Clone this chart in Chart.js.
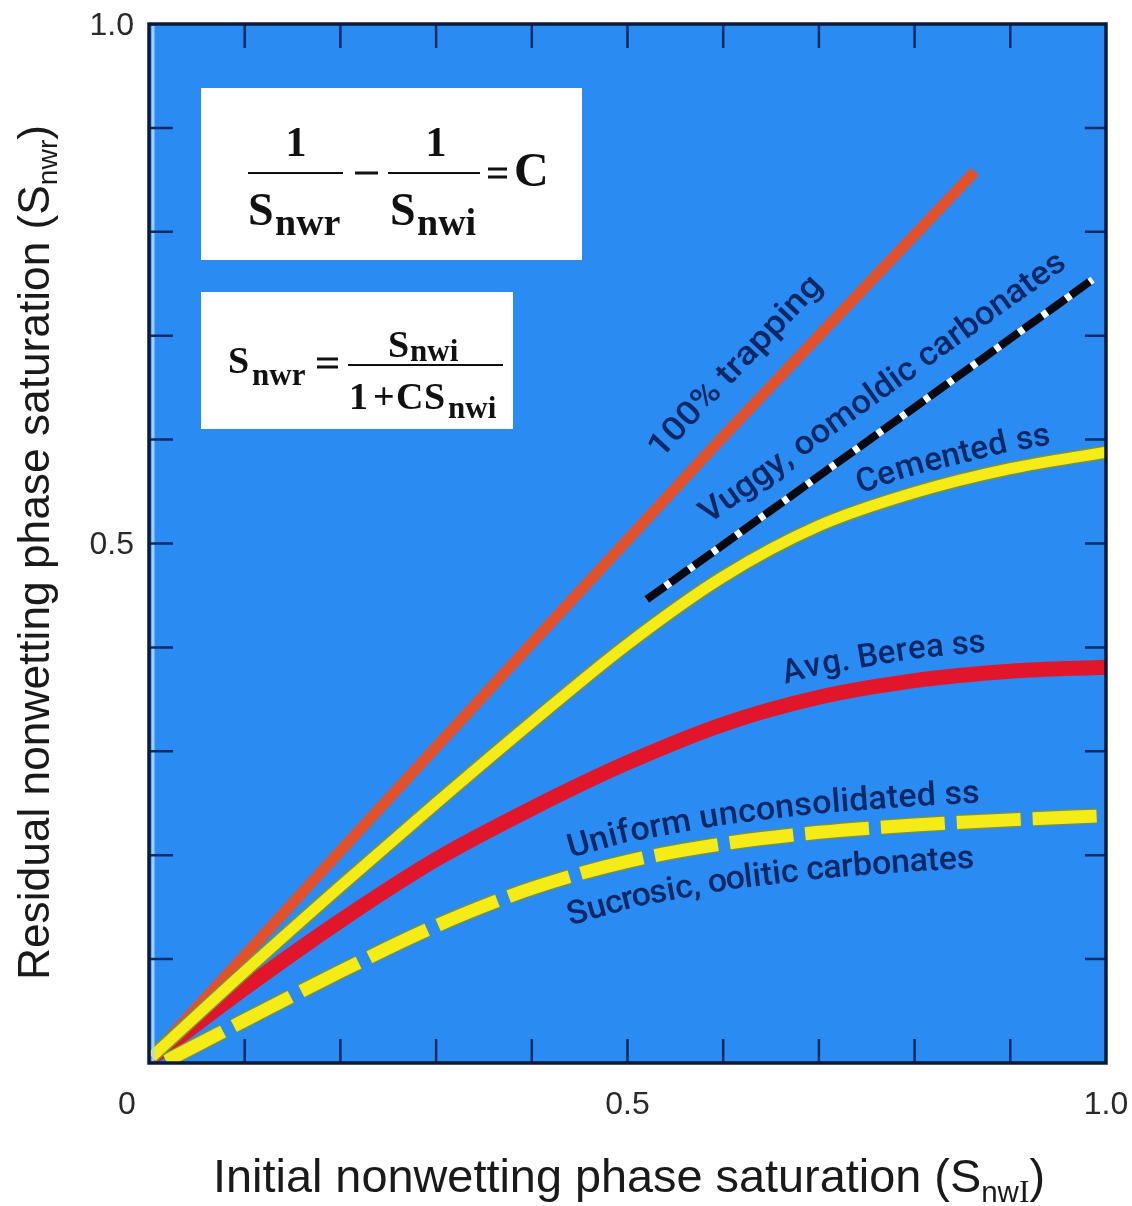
<!DOCTYPE html>
<html>
<head>
<meta charset="utf-8">
<script src="https://cdn.jsdelivr.net/npm/chart.js@4.4.1/dist/chart.umd.min.js"></script>
<style>
html,body{margin:0;padding:0;background:#ffffff;}
canvas{display:block;}
</style>
</head>
<body>
<canvas id="c" width="1132" height="1206"></canvas>
<script>
// ---------------- data ----------------
const trappingX = [0.003, 0.2, 0.4, 0.6, 0.863];
const trappingY = [0.006, 0.204, 0.404, 0.603, 0.858];

const vuggyX = [0.52, 0.75, 0.986];
const vuggyY = [0.446, 0.598, 0.754];

const cementedX = [0.003, 0.1, 0.2, 0.3, 0.4, 0.5, 0.6, 0.7, 0.8, 0.9, 1.0];
const cementedY = [0.006, 0.088, 0.170, 0.250, 0.328, 0.403, 0.468, 0.517, 0.549, 0.572, 0.588];

const bereaX = [0.003, 0.1, 0.2, 0.3, 0.4, 0.5, 0.6, 0.7, 0.8, 0.9, 1.0];
const bereaY = [0.005, 0.072, 0.137, 0.196, 0.245, 0.289, 0.326, 0.352, 0.368, 0.377, 0.381];

const uniformX = [0.018, 0.1, 0.2, 0.3, 0.4, 0.5, 0.6, 0.7, 0.8, 0.9, 1.0];
const uniformY = [0.002, 0.041, 0.088, 0.132, 0.168, 0.194, 0.211, 0.222, 0.229, 0.234, 0.238];

const xTickLabels = [{v: 0, t: '0'}, {v: 0.5, t: '0.5'}, {v: 1.0, t: '1.0'}];
const yTickLabels = [{v: 0.5, t: '0.5'}, {v: 1.0, t: '1.0'}];

const curveLabels = [
  { text: '100% trapping', path: 'trapping', startX: 0.558, offset: 30, length: 237 },
  { text: 'Vuggy, oomoldic carbonates', path: 'vuggy', startX: 0.600, offset: 25, length: 442 },
  { text: 'Cemented ss', path: 'cemented', startX: 0.749, offset: 17, length: 195 },
  { text: 'Avg. Berea ss', path: 'berea', startX: 0.671, offset: 22, length: 200 },
  { text: 'Uniform unconsolidated ss', path: 'uniform', startX: 0.446, offset: 19, length: 410 },
  { text: 'Sucrosic, oolitic carbonates', path: 'uniform', startX: 0.427, offset: -46, length: 420 }
];

// ---------------- styling ----------------
const PLOT_BLUE = '#2a8bf3';
const FRAME = '#0b1a38';
const TICK = '#0d2b66';
const LABEL_BLUE = '#0b2866';
const YELLOW = '#f4eb17';
const YELLOW_EDGE = '#7a923c';

const pts = (xs, ys) => xs.map((x, i) => ({x: x, y: ys[i]}));
const paths = {
  trapping: [trappingX, trappingY],
  vuggy: [vuggyX, vuggyY],
  cemented: [cementedX, cementedY],
  berea: [bereaX, bereaY],
  uniform: [uniformX, uniformY]
};

// ---------------- helpers ----------------
function pxPath(chart, key) {
  const [xs, ys] = paths[key];
  return xs.map((x, i) => [chart.scales.x.getPixelForValue(x), chart.scales.y.getPixelForValue(ys[i])]);
}
function pointAt(p, s) {
  let acc = 0;
  for (let i = 1; i < p.length; i++) {
    const dx = p[i][0] - p[i-1][0], dy = p[i][1] - p[i-1][1];
    const L = Math.hypot(dx, dy);
    if (s <= acc + L || i === p.length - 1) {
      const t = (s - acc) / L;
      return [p[i-1][0] + dx * t, p[i-1][1] + dy * t];
    }
    acc += L;
  }
}
function arcAtX(p, px) {
  let acc = 0;
  for (let i = 1; i < p.length; i++) {
    const dx = p[i][0] - p[i-1][0], dy = p[i][1] - p[i-1][1];
    const L = Math.hypot(dx, dy);
    if (px <= p[i][0] || i === p.length - 1) return acc + L * (px - p[i-1][0]) / dx;
    acc += L;
  }
}
function drawCurvedText(ctx, lab, p, px0, font) {
  ctx.font = font;
  const chars = Array.from(lab.text);
  const widths = chars.map(c => ctx.measureText(c).width);
  const total = widths.reduce((a, b) => a + b, 0);
  const k = lab.length / total;
  let s = arcAtX(p, px0);
  chars.forEach((ch, i) => {
    const w = widths[i] * k;
    const mid = s + w / 2;
    const a = pointAt(p, mid - 20), b = pointAt(p, mid + 20);
    const ang = Math.atan2(b[1] - a[1], b[0] - a[0]);
    const c = pointAt(p, mid);
    const nx = Math.sin(ang), ny = -Math.cos(ang);
    ctx.save();
    ctx.translate(c[0] + nx * lab.offset, c[1] + ny * lab.offset);
    ctx.rotate(ang);
    ctx.scale(k, 1);
    ctx.fillText(ch, -widths[i] / 2, 0);
    ctx.restore();
    s += w;
  });
}
function drawRich(ctx, parts, x, y, rot, target) {
  let total = 0;
  parts.forEach(pt => { ctx.font = pt.f; total += ctx.measureText(pt.t).width; });
  const k = target / total;
  ctx.save();
  ctx.translate(x, y);
  ctx.rotate(rot);
  ctx.scale(k, 1);
  let cx = 0;
  parts.forEach(pt => {
    ctx.font = pt.f;
    ctx.fillText(pt.t, cx, pt.dy || 0);
    cx += ctx.measureText(pt.t).width;
  });
  ctx.restore();
}
function txt(ctx, s, x, y, font, align) {
  ctx.font = font; ctx.textAlign = align || 'left'; ctx.fillText(s, x, y);
}
function hline(ctx, x1, x2, y, w) {
  ctx.fillRect(x1, y - w / 2, x2 - x1, w);
}

// ---------------- plugin ----------------
const decor = {
  id: 'decor',
  beforeDraw(chart) {
    const ctx = chart.ctx, a = chart.chartArea;
    ctx.save();
    ctx.fillStyle = '#ffffff';
    ctx.fillRect(0, 0, chart.width, chart.height);
    ctx.fillStyle = PLOT_BLUE;
    ctx.fillRect(a.left, a.top, a.right - a.left, a.bottom - a.top);
    ctx.restore();
  },
  afterDraw(chart) {
    const ctx = chart.ctx, a = chart.chartArea;
    const xs = chart.scales.x, ys = chart.scales.y;
    ctx.save();

    // light strip inside left edge (scan look)
    ctx.strokeStyle = 'rgba(170,215,255,0.9)';
    ctx.lineWidth = 3;
    ctx.beginPath(); ctx.moveTo(a.left + 4, a.top + 2); ctx.lineTo(a.left + 4, a.bottom - 2); ctx.stroke();

    // inner tick marks
    ctx.strokeStyle = TICK;
    ctx.lineWidth = 2.5;
    xs.ticks.forEach(t => {
      if (t.value <= 0.001 || t.value >= 0.999) return;
      const px = xs.getPixelForValue(t.value);
      ctx.beginPath();
      ctx.moveTo(px, a.bottom); ctx.lineTo(px, a.bottom - 24);
      ctx.moveTo(px, a.top); ctx.lineTo(px, a.top + 24);
      ctx.stroke();
    });
    ys.ticks.forEach(t => {
      if (t.value <= 0.001 || t.value >= 0.999) return;
      const py = ys.getPixelForValue(t.value);
      ctx.beginPath();
      ctx.moveTo(a.left, py); ctx.lineTo(a.left + 24, py);
      ctx.moveTo(a.right, py); ctx.lineTo(a.right - 21, py);
      ctx.stroke();
    });

    // frame
    ctx.strokeStyle = FRAME;
    ctx.lineWidth = 3.5;
    ctx.strokeRect(a.left, a.top, a.right - a.left, a.bottom - a.top);

    // tick labels
    ctx.fillStyle = '#2a2a2a';
    ctx.textBaseline = 'middle';
    xTickLabels.forEach(l => {
      let px = xs.getPixelForValue(l.v);
      if (l.v === 0) px -= 22;
      txt(ctx, l.t, px, a.bottom + 42, '32px "Liberation Sans", Arial, sans-serif', 'center');
    });
    yTickLabels.forEach(l => {
      const py = ys.getPixelForValue(l.v) + 2;
      txt(ctx, l.t, a.left - 15, py, '32px "Liberation Sans", Arial, sans-serif', 'right');
    });

    // axis titles
    ctx.textBaseline = 'alphabetic';
    ctx.textAlign = 'left';
    ctx.fillStyle = '#1a1a1a';
    const F = '"Liberation Sans", Arial, sans-serif';
    const SER = '"Liberation Serif", "Times New Roman", serif';
    drawRich(ctx, [
      {t: 'Residual nonwetting phase saturation (S', f: '44px ' + F},
      {t: 'nwr', f: '28px ' + F, dy: 8},
      {t: ')', f: '44px ' + F}
    ], 49, 980, -Math.PI / 2, 855);
    drawRich(ctx, [
      {t: 'Initial nonwetting phase saturation (S', f: '46px ' + F},
      {t: 'nw', f: '29px ' + F, dy: 10},
      {t: 'I', f: '31px ' + SER, dy: 10},
      {t: ')', f: '46px ' + F}
    ], 213, 1192, 0, 832);

    // curve labels
    ctx.fillStyle = LABEL_BLUE;
    curveLabels.forEach(lab => {
      const p = pxPath(chart, lab.path);
      drawCurvedText(ctx, lab, p, xs.getPixelForValue(lab.startX),
        '500 33px Roboto, "Liberation Sans", Arial, sans-serif');
    });

    // equation boxes
    const b1x = a.left + 52, b1y = a.top + 64;
    ctx.fillStyle = '#ffffff';
    ctx.fillRect(b1x, b1y, 381, 172);
    const b2x = a.left + 52, b2y = a.top + 268;
    ctx.fillRect(b2x, b2y, 312, 137);

    ctx.fillStyle = '#111111';
    // 1/Snwr - 1/Snwi = C
    txt(ctx, '1', b1x + 95, b1y + 68, 'bold 42px ' + SER, 'center');
    hline(ctx, b1x + 47, b1x + 142, b1y + 85, 2);
    txt(ctx, 'S', b1x + 47, b1y + 137, 'bold 46px ' + SER);
    txt(ctx, 'nwr', b1x + 74, b1y + 147, 'bold 38px ' + SER);
    hline(ctx, b1x + 154, b1x + 177, b1y + 85, 3);
    txt(ctx, '1', b1x + 235, b1y + 68, 'bold 42px ' + SER, 'center');
    hline(ctx, b1x + 187, b1x + 279, b1y + 85, 2);
    txt(ctx, 'S', b1x + 189, b1y + 137, 'bold 46px ' + SER);
    txt(ctx, 'nwi', b1x + 216, b1y + 147, 'bold 38px ' + SER);
    hline(ctx, b1x + 287, b1x + 306, b1y + 81, 3);
    hline(ctx, b1x + 287, b1x + 306, b1y + 89, 3);
    txt(ctx, 'C', b1x + 313, b1y + 98, 'bold 48px ' + SER);

    // Snwr = Snwi / (1 + C Snwi)
    txt(ctx, 'S', b2x + 27, b2y + 81, 'bold 38px ' + SER);
    txt(ctx, 'nwr', b2x + 51, b2y + 93, 'bold 31px ' + SER);
    hline(ctx, b2x + 116, b2x + 137, b2y + 67, 3);
    hline(ctx, b2x + 116, b2x + 137, b2y + 75, 3);
    hline(ctx, b2x + 147, b2x + 302, b2y + 73, 2);
    txt(ctx, 'S', b2x + 187, b2y + 65, 'bold 38px ' + SER);
    txt(ctx, 'nwi', b2x + 209, b2y + 69, 'bold 31px ' + SER);
    txt(ctx, '1', b2x + 148, b2y + 117, 'bold 38px ' + SER);
    txt(ctx, '+', b2x + 172, b2y + 117, 'bold 38px ' + SER);
    txt(ctx, 'C', b2x + 195, b2y + 117, 'bold 38px ' + SER);
    txt(ctx, 'S', b2x + 223, b2y + 117, 'bold 38px ' + SER);
    txt(ctx, 'nwi', b2x + 247, b2y + 126, 'bold 31px ' + SER);

    ctx.restore();
  }
};

// ---------------- chart ----------------
const common = {pointRadius: 0, pointHoverRadius: 0, fill: false, clip: 0, borderCapStyle: 'butt'};

new Chart(document.getElementById('c'), {
  type: 'line',
  data: {
    datasets: [
      Object.assign({}, common, {label: 'Vuggy, oomoldic carbonates', data: pts(vuggyX, vuggyY), borderColor: '#080810', borderWidth: 8, borderDash: [23, 6], order: 0}),
      Object.assign({}, common, {label: 'Vuggy gaps', data: pts(vuggyX, vuggyY), borderColor: '#ffffff', borderWidth: 7, order: 1}),
      Object.assign({}, common, {label: 'Cemented ss', data: pts(cementedX, cementedY), borderColor: YELLOW, borderWidth: 11, cubicInterpolationMode: 'monotone', order: 2}),
      Object.assign({}, common, {label: 'Cemented edge', data: pts(cementedX, cementedY), borderColor: YELLOW_EDGE, borderWidth: 14, cubicInterpolationMode: 'monotone', order: 3}),
      Object.assign({}, common, {label: '100% trapping', data: pts(trappingX, trappingY), borderColor: '#e0512c', borderWidth: 11, order: 4}),
      Object.assign({}, common, {label: 'Uniform unconsolidated ss / Sucrosic, oolitic carbonates', data: pts(uniformX, uniformY), borderColor: YELLOW, borderWidth: 13, borderDash: [64, 12], cubicInterpolationMode: 'monotone', order: 5}),
      Object.assign({}, common, {label: 'Uniform edge', data: pts(uniformX, uniformY), borderColor: YELLOW_EDGE, borderWidth: 15.5, borderDash: [64, 12], cubicInterpolationMode: 'monotone', order: 6}),
      Object.assign({}, common, {label: 'Avg. Berea ss', data: pts(bereaX, bereaY), borderColor: '#e2162b', borderWidth: 15, cubicInterpolationMode: 'monotone', order: 7})
    ]
  },
  options: {
    responsive: false,
    animation: false,
    devicePixelRatio: 1,
    layout: {padding: {left: 149, top: 24, right: 26, bottom: 143}},
    plugins: {legend: {display: false}, tooltip: {enabled: false}},
    events: [],
    scales: {
      x: {
        type: 'linear', min: 0, max: 1,
        ticks: {display: false, stepSize: 0.1},
        grid: {display: false, drawTicks: false},
        border: {display: false}
      },
      y: {
        type: 'linear', min: 0, max: 1,
        ticks: {display: false, stepSize: 0.1},
        grid: {display: false, drawTicks: false},
        border: {display: false}
      }
    }
  },
  plugins: [decor]
});
</script>
</body>
</html>
